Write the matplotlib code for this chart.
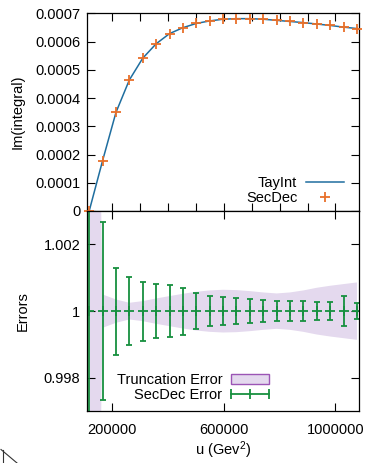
import matplotlib
matplotlib.use('Agg')
import matplotlib.pyplot as plt
from matplotlib.lines import Line2D
from matplotlib.patches import Patch
from matplotlib.container import ErrorbarContainer
from matplotlib.legend_handler import HandlerBase
from matplotlib.ticker import MultipleLocator, FixedLocator, FormatStrFormatter

plt.rcParams['font.family'] = ['Liberation Sans', 'DejaVu Sans']
plt.rcParams['font.size'] = 10.5
plt.rcParams['mathtext.fontset'] = 'custom'
plt.rcParams['mathtext.rm'] = 'Liberation Sans'
plt.rcParams['mathtext.default'] = 'regular'
plt.rcParams['axes.linewidth'] = 0.9

# data
u = [117000, 165000, 213000, 261000, 309000, 357000, 405000, 453000, 501000,
     549000, 597000, 645000, 693000, 741000, 789000, 837000, 885000, 933000,
     981000, 1029000, 1077000]
secdec_im = [0.0, 0.000178, 0.000349, 0.000464, 0.000541, 0.000592, 0.000628,
             0.000649, 0.000664, 0.000673, 0.000679, 0.000681, 0.000681,
             0.000679, 0.000675, 0.000671, 0.000667, 0.000662, 0.000657,
             0.000651, 0.000646]
tayint_u = u + [1085000]
tayint_im = secdec_im + [0.000643]

ratio = [1.0] * 21
trunc_err = [0.025, 0.0005, 0.00035, 0.00025, 0.0003, 0.00038, 0.00045,
             0.00052, 0.00058, 0.00062, 0.00064, 0.00063, 0.0006, 0.00056,
             0.00053, 0.00056, 0.00062, 0.0007, 0.00076, 0.00081, 0.00086]
secdec_err = [0.01, 0.00266, 0.0013, 0.00102, 0.00088, 0.00081, 0.00078,
              0.0007, 0.00053, 0.00045, 0.00042, 0.00039, 0.00036, 0.00033,
              0.0003, 0.0003, 0.0003, 0.00028, 0.00027, 0.00045, 0.00025]

blue = '#1f6e9f'
orange = '#e8702a'
green = '#17903f'
fill = '#e4d9ee'
purple = '#9b55b5'


class HErrHandler(HandlerBase):
    # gnuplot style horizontal errorbar sample
    def create_artists(self, legend, orig_handle, xdescent, ydescent,
                       width, height, fontsize, trans):
        y = height / 2 - ydescent
        x0 = -xdescent
        x1 = -xdescent + width
        ln = Line2D([x0, x1], [y, y], color=green, lw=1.3, transform=trans)
        caps = Line2D([x0, (x0 + x1) / 2, x1], [y, y, y], ls='none',
                      marker='|', ms=7, mew=1.3, color=green, transform=trans)
        return [ln, caps]


fig = plt.figure(figsize=(3.65, 4.63), dpi=100)
ax1 = fig.add_axes([0.239, 0.5443, 0.745, 0.4270])
ax2 = fig.add_axes([0.239, 0.1117, 0.745, 0.4326])

# top panel
ax1.plot(tayint_u, tayint_im, color=blue, lw=1.1, label='TayInt', zorder=2)
ax1.plot(u, secdec_im, ls='none', marker='+', ms=7, mew=1.3, color=orange,
         label='SecDec', zorder=3, clip_on=False)
ax1.set_xlim(110000, 1085000)
ax1.set_ylim(0, 0.0007)
ax1.xaxis.set_major_locator(MultipleLocator(100000))
ax1.yaxis.set_major_locator(MultipleLocator(0.0001))
ax1.yaxis.set_major_formatter(FormatStrFormatter('%g'))
ax1.tick_params(direction='in', top=True, right=True, length=6, width=0.8,
                labelbottom=False, pad=5)
ax1.set_ylabel('Im(integral)', va='center')
ax1.yaxis.set_label_coords(-0.255, 0.5)
ax1.legend(loc='lower right', bbox_to_anchor=(0.944, 0.03), frameon=False,
           markerfirst=False, handlelength=2.6, handletextpad=0.6,
           labelspacing=0.08, borderpad=0, borderaxespad=0)

# bottom panel
lo = [r - t for r, t in zip(ratio, trunc_err)]
hi = [r + t for r, t in zip(ratio, trunc_err)]
ax2.fill_between(u, lo, hi, facecolor=fill, edgecolor='none', zorder=1)
eb = ax2.errorbar(u, ratio, yerr=secdec_err, fmt='+', ms=7, mew=1.3,
                  color=green, ecolor=green, elinewidth=1.3, capsize=2.5,
                  capthick=1.3, zorder=2)
ax2.set_xlim(110000, 1085000)
ax2.set_ylim(0.997, 1.003)
ax2.xaxis.set_major_locator(FixedLocator([200000, 600000, 1000000]))
ax2.xaxis.set_major_formatter(FormatStrFormatter('%d'))
ax2.yaxis.set_major_locator(FixedLocator([0.998, 1.0, 1.002]))
ax2.yaxis.set_major_formatter(FormatStrFormatter('%g'))
ax2.tick_params(direction='in', top=True, right=True, length=6, width=0.8)
ax2.tick_params(axis='x', pad=8.5)
ax2.tick_params(axis='y', pad=5)
ax2.set_ylabel('Errors', va='center')
ax2.yaxis.set_label_coords(-0.238, 0.5)
ax2.set_xlabel('u (Gev$^2$)', labelpad=2)

trunc_patch = Patch(facecolor=fill, edgecolor=purple, lw=1)
ax2.legend([trunc_patch, eb], ['Truncation Error', 'SecDec Error'],
           handler_map={ErrorbarContainer: HErrHandler()},
           loc='lower right', bbox_to_anchor=(0.669, 0.045), frameon=False,
           markerfirst=False, handlelength=2.6, handletextpad=0.6,
           labelspacing=0.08, borderpad=0, borderaxespad=0)

# stray corner stroke at the bottom left
fig.add_artist(Line2D([2.5 / 365, 2.5 / 365], [0, 13 / 463], color='#333333', lw=0.8))
fig.add_artist(Line2D([1 / 365, 17 / 365], [13.5 / 463, 0], color='#333333', lw=0.8))

fig.savefig('out.png', dpi=100)
